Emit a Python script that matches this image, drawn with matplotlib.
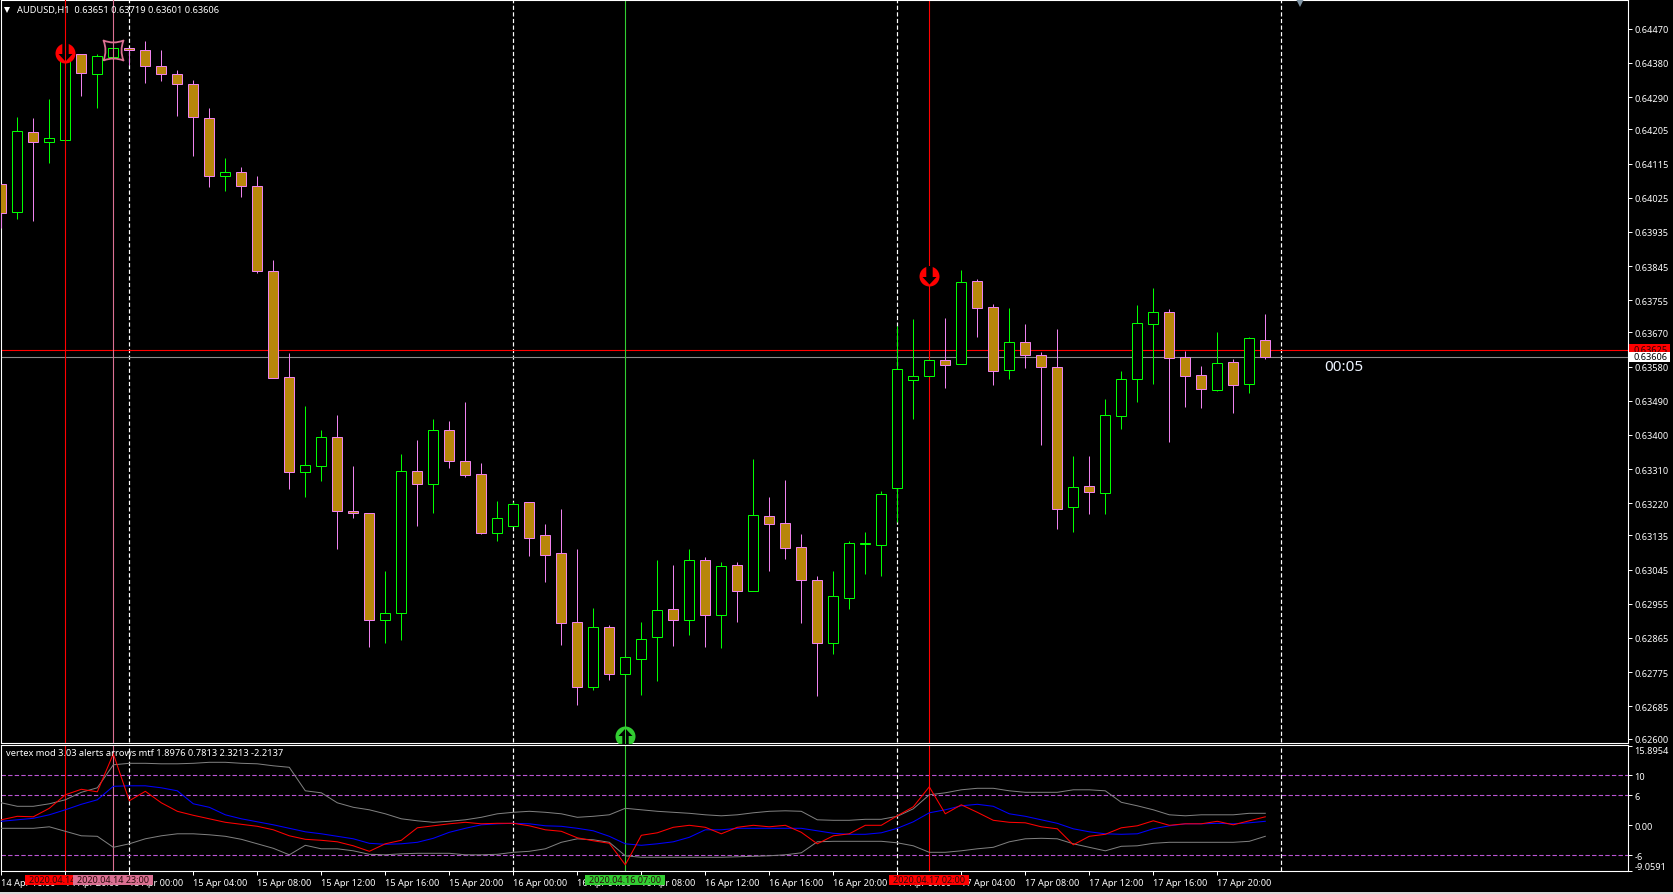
import numpy as np
import matplotlib
matplotlib.use('Agg')
import matplotlib.pyplot as plt
from matplotlib.path import Path
from matplotlib.patches import Rectangle

plt.rcParams['font.family'] = ['Noto Sans', 'DejaVu Sans']
plt.rcParams['font.size'] = 6.6

# AUDUSD H1 candles, prices in points (1e-5)
opens = [64061, 63987, 64197, 64171, 64176, 64403, 64350, 64395, 64419, 64413,
         64371, 64350, 64324, 64234, 64081, 64092, 64055, 63831, 63552, 63301,
         63319, 63394, 63200, 63193, 62912, 62930, 63304, 63271, 63412, 63330,
         63296, 63142, 63161, 63222, 63135, 63088, 62906, 62737, 62893, 62771,
         62810, 62868, 62940, 62913, 63070, 62926, 63056, 62990, 63186, 63167,
         63104, 63017, 62852, 62971, 63113, 63111, 63259, 63545, 63554, 63597,
         63586, 63805, 63736, 63570, 63644, 63610, 63578, 63211, 63265, 63248,
         63451, 63548, 63693, 63723, 63605, 63557, 63519, 63591, 63535, 63651]
highs = [64061, 64238, 64235, 64285, 64406, 64404, 64404, 64438, 64419, 64438,
         64414, 64362, 64335, 64261, 64129, 64106, 64082, 63861, 63616, 63476,
         63413, 63452, 63317, 63193, 63041, 63349, 63386, 63442, 63436, 63486,
         63325, 63225, 63223, 63222, 63164, 63204, 63099, 62943, 62898, 62814,
         62906, 63070, 63056, 63099, 63078, 63064, 63064, 63336, 63236, 63280,
         63138, 63027, 63041, 63120, 63143, 63251, 63688, 63705, 63597, 63708,
         63834, 63810, 63744, 63734, 63691, 63618, 63678, 63344, 63344, 63494,
         63568, 63742, 63786, 63731, 63620, 63581, 63670, 63599, 63657, 63719]
lows = [63945, 63970, 63964, 64117, 64176, 64294, 64262, 64388, 64376, 64328,
        64333, 64241, 64136, 64054, 64043, 64028, 63827, 63549, 63258, 63237,
        63279, 63099, 63182, 62842, 62852, 62860, 63161, 63195, 63314, 63290,
        63140, 63121, 63159, 63082, 63013, 62847, 62689, 62729, 62755, 62771,
        62715, 62752, 62845, 62874, 62842, 62839, 62908, 62990, 63042, 63074,
        62905, 62713, 62823, 62942, 63034, 63029, 63170, 63443, 63554, 63524,
        63586, 63659, 63532, 63548, 63577, 63374, 63153, 63145, 63192, 63192,
        63416, 63488, 63535, 63382, 63474, 63472, 63517, 63459, 63511, 63601]
closes = [63985, 64200, 64171, 64182, 64406, 64353, 64398, 64419, 64413, 64371,
          64350, 64324, 64237, 64081, 64092, 64055, 63831, 63549, 63301, 63320,
          63394, 63200, 63193, 62912, 62930, 63304, 63271, 63412, 63330, 63295,
          63142, 63180, 63217, 63129, 63084, 62905, 62737, 62893, 62771, 62814,
          62861, 62938, 62913, 63070, 62926, 63054, 62990, 63188, 63166, 63103,
          63018, 62852, 62975, 63114, 63114, 63244, 63573, 63554, 63597, 63585,
          63802, 63735, 63569, 63644, 63611, 63580, 63206, 63262, 63250, 63452,
          63547, 63694, 63723, 63603, 63556, 63522, 63589, 63532, 63655, 63606]

# vertex indicator lines
vertex_red = [1.1, 1.8, 1.7, 3.4, 6.1, 7.2, 6.7, 14.3, 4.9, 6.8,
              4.5, 2.8, 2.0, 1.3, 0.6, 0.2, -0.2, -0.9, -2.1, -2.8,
              -3.0, -3.3, -4.1, -5.2, -3.7, -3.0, -0.5, -0.1, 0.3, 0.6,
              0.3, 0.4, 0.4, -0.1, -0.9, -1.2, -2.5, -3.1, -3.6, -7.9,
              -2.0, -1.5, -0.4, 0.0, -0.4, -1.7, -0.4, 0.0, -0.3, 0.0,
              -1.4, -3.7, -2.1, -1.7, 0.0, 0.0, 1.9, 3.7, 7.7, 2.3,
              4.1, 2.6, 1.0, 0.6, 0.5, -0.3, -0.7, -3.9, -2.2, -1.8,
              -0.5, -0.1, 0.9, 0.0, 0.3, 0.3, 0.8, 0.1, 0.9, 1.7]
vertex_blue = [0.8, 1.1, 1.4, 2.1, 3.1, 4.2, 5.1, 7.8, 7.9, 7.9,
               7.5, 6.9, 4.3, 3.6, 2.1, 1.3, 0.7, 0.1, -0.6, -1.3,
               -1.7, -2.2, -2.7, -3.6, -3.8, -3.7, -3.4, -2.6, -1.4, -0.6,
               0.1, 0.3, 0.4, 0.3, -0.1, -0.2, -0.6, -1.1, -2.2, -3.7,
               -4.0, -3.7, -3.3, -2.4, -0.9, -0.9, -0.6, -0.6, -0.6, -0.6,
               -0.6, -1.1, -1.6, -1.8, -1.8, -1.5, -0.6, 0.7, 2.5, 3.1,
               3.9, 4.2, 3.8, 2.3, 1.8, 1.1, 0.4, -0.7, -1.3, -1.7,
               -1.8, -1.7, -0.7, -0.1, 0.3, 0.3, 0.4, 0.3, 0.5, 0.8]
vertex_upper = [4.5, 3.8, 3.8, 4.3, 5.1, 6.6, 7.5, 12.1, 12.4, 12.4,
                12.3, 12.3, 12.4, 12.6, 12.6, 12.4, 12.3, 11.9, 11.6, 6.9,
                6.5, 4.5, 3.6, 3.1, 2.3, 1.3, 0.9, 0.6, 0.8, 1.1,
                1.6, 2.3, 2.6, 2.8, 2.6, 2.3, 1.6, 1.8, 2.1, 3.4,
                3.1, 2.8, 2.6, 2.4, 2.1, 1.9, 2.1, 2.5, 2.8, 2.9,
                2.8, 1.1, 1.0, 1.0, 1.2, 1.2, 1.8, 3.3, 6.1, 6.5,
                7.1, 7.4, 7.4, 6.9, 6.6, 6.6, 6.6, 7.1, 7.1, 6.9,
                4.6, 3.9, 3.1, 2.1, 1.9, 2.1, 2.1, 2.1, 2.4, 2.4]
vertex_lower = [-0.6, -0.6, -0.6, -0.3, -1.2, -2.1, -2.2, -4.4, -3.7, -2.7,
                -2.1, -1.7, -1.7, -1.9, -2.2, -2.8, -3.7, -4.6, -5.9, -4.0,
                -4.7, -4.7, -5.1, -5.8, -5.9, -5.7, -5.6, -5.6, -5.6, -5.9,
                -5.9, -5.8, -5.4, -5.2, -4.7, -3.4, -2.7, -2.9, -3.4, -6.1,
                -6.4, -6.4, -6.4, -6.4, -6.4, -6.4, -6.3, -6.2, -6.1, -5.9,
                -5.5, -3.3, -3.2, -3.2, -3.2, -3.2, -3.5, -4.1, -5.4, -5.4,
                -5.1, -4.7, -4.4, -3.3, -2.7, -2.6, -2.7, -3.7, -4.4, -5.1,
                -4.2, -4.1, -3.6, -3.4, -3.4, -3.4, -3.4, -3.4, -3.2, -2.2]

price_ticks = [0.64470, 0.64380, 0.64290, 0.64205, 0.64115, 0.64025, 0.63935, 0.63845,
               0.63755, 0.63670, 0.63580, 0.63490, 0.63400, 0.63310, 0.63220, 0.63135,
               0.63045, 0.62955, 0.62865, 0.62775, 0.62685, 0.62600]
vertex_ticks = [15.8954, 10, 6, 0, -6, -9.0591]
vertex_tick_labels = ['15.8954', '10', '6', '0.00', '-6', '-9.0591']
vertex_levels = [10, 6, -6]

time_ticks = list(range(0, 80, 4))
time_labels = ['14 Apr 16:00', '14 Apr 20:00', '15 Apr 00:00', '15 Apr 04:00', '15 Apr 08:00',
               '15 Apr 12:00', '15 Apr 16:00', '15 Apr 20:00', '16 Apr 00:00', '16 Apr 04:00',
               '16 Apr 08:00', '16 Apr 12:00', '16 Apr 16:00', '16 Apr 20:00', '17 Apr 00:00',
               '17 Apr 04:00', '17 Apr 08:00', '17 Apr 12:00', '17 Apr 16:00', '17 Apr 20:00']

day_lines = [8, 32, 56, 80]
ask_price = 0.63625
bid_price = 0.63606

# candle index, line colour and label of the signal lines
signal_idx = [4, 7, 39, 58]
signal_colors = ['#ff0000', '#db7093', '#32cd32', '#ff0000']
signal_labels = ['2020.04.14 20:00', '2020.04.14 23:00', '2020.04.16 07:00', '2020.04.17 02:00']

PX = 0.72  # one pixel in points at dpi 100
W, H = 1674, 895

fig = plt.figure(figsize=(W / 100, H / 100), dpi=100, facecolor='black')
ax = fig.add_axes([1 / W, (H - 743.5) / H, 1627 / W, 742.5 / H], facecolor='black')
ax2 = fig.add_axes([1 / W, (H - 872) / H, 1627 / W, 126.5 / H], facecolor='black')

for a in (ax, ax2):
    a.set_xlim(-0.02, 101.67)
    for s in a.spines.values():
        s.set_color('white')
        s.set_linewidth(1.1 * PX)
    a.tick_params(colors='white', width=PX, length=3.5 * PX, labelsize=6.6)
    a.yaxis.tick_right()

ax.set_ylim(0.625895, 0.64546)
ax2.set_ylim(-9.14, 16.16)

# day separators go behind everything
for a in (ax, ax2):
    a.vlines(day_lines, *a.get_ylim(), colors='white', lw=PX * 1.2, linestyles=(0, (3.5, 2)), zorder=1)

# bid and ask lines
ax.axhline(ask_price, color='#ff0000', lw=1.1 * PX, zorder=1)
ax.axhline(bid_price, color='#8c8c8c', lw=1.1 * PX, zorder=1)

# green and later red signal lines stay behind the candles, first two are above
for n, idx in enumerate(signal_idx):
    z = 8 if n < 2 else 1.5
    ax.axvline(idx, color=signal_colors[n], lw=1.1 * PX, zorder=z)
    ax2.axvline(idx, color=signal_colors[n], lw=1.1 * PX, zorder=1.5)

# candles
o = np.array(opens) / 1e5
h = np.array(highs) / 1e5
l = np.array(lows) / 1e5
c = np.array(closes) / 1e5
x = np.arange(len(o))
up = c >= o

ax.vlines(x[up], l[up], h[up], colors='#00ff00', lw=PX, zorder=3)
ax.vlines(x[~up], l[~up], h[~up], colors='#ee82ee', lw=PX, zorder=3)
ax.bar(x[up], (c - o)[up], bottom=o[up], width=10 / 16, facecolor='black', edgecolor='#00ff00',
       linewidth=PX, zorder=4)
ax.bar(x[~up], (o - c)[~up], bottom=c[~up], width=10 / 16, facecolor='#b8860b', edgecolor='#ee82ee',
       linewidth=PX, zorder=4)

# arrow signals: a disc with a black arrow cut in it
down_arrow = Path([(-0.32, 1.05), (0.32, 1.05), (0.32, -0.05), (0.7, -0.05), (0, -0.8), (-0.7, -0.05),
                   (-0.32, -0.05), (-0.32, 1.05)], closed=True)
up_arrow = Path(down_arrow.vertices * [1, -1], closed=True)
star_path = Path([(-1, -1), (0, -0.6), (1, -1), (0.6, 0), (1, 1), (0, 0.6), (-1, 1), (-0.6, 0), (-1, -1)],
                 [Path.MOVETO, Path.CURVE3, Path.CURVE3, Path.CURVE3, Path.CURVE3,
                  Path.CURVE3, Path.CURVE3, Path.CURVE3, Path.CURVE3])

ms = 20 * PX
ax.plot([4, 58], [0.64406, 0.63820], 'o', color='#ff0000', ms=ms, mew=0, zorder=5)
ax.plot([4, 58], [0.64406, 0.63820], ls='none', marker=down_arrow, color='black', ms=ms * 1.05, mew=0, zorder=6)
ax.plot([39], [0.62607], 'o', color='#32cd32', ms=ms, mew=0, zorder=5)
ax.plot([39], [0.62607], ls='none', marker=up_arrow, color='black', ms=ms * 1.05, mew=0, zorder=6)
ax.plot([39], [0.62607], ls='none', marker='|', color='#32cd32', ms=ms, mew=PX, zorder=7)
ax.plot([7], [0.64415], ls='none', marker=star_path, mfc='none', mec='#db7093', ms=ms, mew=1.8 * PX, zorder=7)

# indicator panel
for lev in vertex_levels:
    ax2.axhline(lev, color='#ba55d3', lw=1.1 * PX, ls=(0, (4, 2)), zorder=1)
ax2.plot(x, vertex_upper, color='#808080', lw=PX, zorder=3)
ax2.plot(x, vertex_lower, color='#808080', lw=PX, zorder=3)
ax2.plot(x, vertex_blue, color='#0000ff', lw=1.05 * PX, zorder=4)
ax2.plot(x, vertex_red, color='#ff0000', lw=1.05 * PX, zorder=5)

# axes text
ax.set_xticks([])
ax.set_yticks(price_ticks)
ax.set_yticklabels(['%.5f' % p for p in price_ticks])
ax2.set_yticks(vertex_ticks)
ax2.set_yticklabels(vertex_tick_labels)
ax2.get_yticklabels()[0].set_va('top')
ax2.get_yticklabels()[-1].set_va('bottom')
ax.tick_params(axis='y', pad=2)
ax2.tick_params(axis='y', pad=2)
ax2.set_xticks(time_ticks)
ax2.set_xticklabels(time_labels, ha='left')
ax2.tick_params(axis='x', pad=2.5)

ax.text(15.7 / 1627, 1 - 9 / 742.5, 'AUDUSD,H1  0.63651 0.63719 0.63601 0.63606', color='white',
        transform=ax.transAxes, va='center', ha='left', fontsize=6.7, zorder=9)
ax.plot([6.3 / 1627], [1 - 9.5 / 742.5], 'v', color='white', ms=5 * PX * 1.3, mew=0, transform=ax.transAxes, zorder=9)
ax2.text(5 / 1627, 1 - 8.5 / 126.5, 'vertex mod 3.03 alerts arrows mtf 1.8976 0.7813 2.3213 -2.2137', color='white',
         transform=ax2.transAxes, va='center', ha='left', fontsize=6.7, zorder=9)
ax.text(82.7, 0.63579, '00:05', color='#eef4ff', fontsize=11, va='center', ha='left', zorder=9)
ax.plot([81.2], [0.9975], 'v', color='#7f93a3', ms=8 * PX * 1.2, mew=0, transform=ax.get_xaxis_transform(),
        clip_on=False, zorder=9)

# time tags over the x labels
tag_tr = ax2.get_xaxis_transform()
for n, idx in enumerate(signal_idx):
    ax2.add_patch(Rectangle((idx - 2.5, -0.111), 5, 0.082, transform=tag_tr, facecolor=signal_colors[n],
                            edgecolor='none', clip_on=False, zorder=10 + n))
    ax2.text(idx, -0.07, signal_labels[n], transform=tag_tr, color='#2a0a0a', fontsize=6.5, ha='center',
             va='center', clip_on=False, zorder=10 + n)

# price tags over the y labels
ptr = ax.get_yaxis_transform()
ax.add_patch(Rectangle((1.0006, 0.63618), 0.0252, 0.00022, transform=ptr, facecolor='#ff0000', edgecolor='none',
                       clip_on=False, zorder=10))
ax.text(1.0036, ask_price, '%.5f' % ask_price, transform=ptr, color='#300000', va='center', ha='left',
        fontsize=6.6, clip_on=False, zorder=10)
ax.add_patch(Rectangle((1.0006, 0.63593), 0.0252, 0.00025, transform=ptr, facecolor='white', edgecolor='none',
                       clip_on=False, zorder=11))
ax.text(1.0036, bid_price, '%.5f' % bid_price, transform=ptr, color='black', va='center', ha='left',
        fontsize=6.6, clip_on=False, zorder=12)

fig.patches.append(Rectangle((0, 0), 1, 2 / H, transform=fig.transFigure, facecolor='#d8d8d8', edgecolor='none'))

fig.savefig('out.png', dpi=100, facecolor='black')
